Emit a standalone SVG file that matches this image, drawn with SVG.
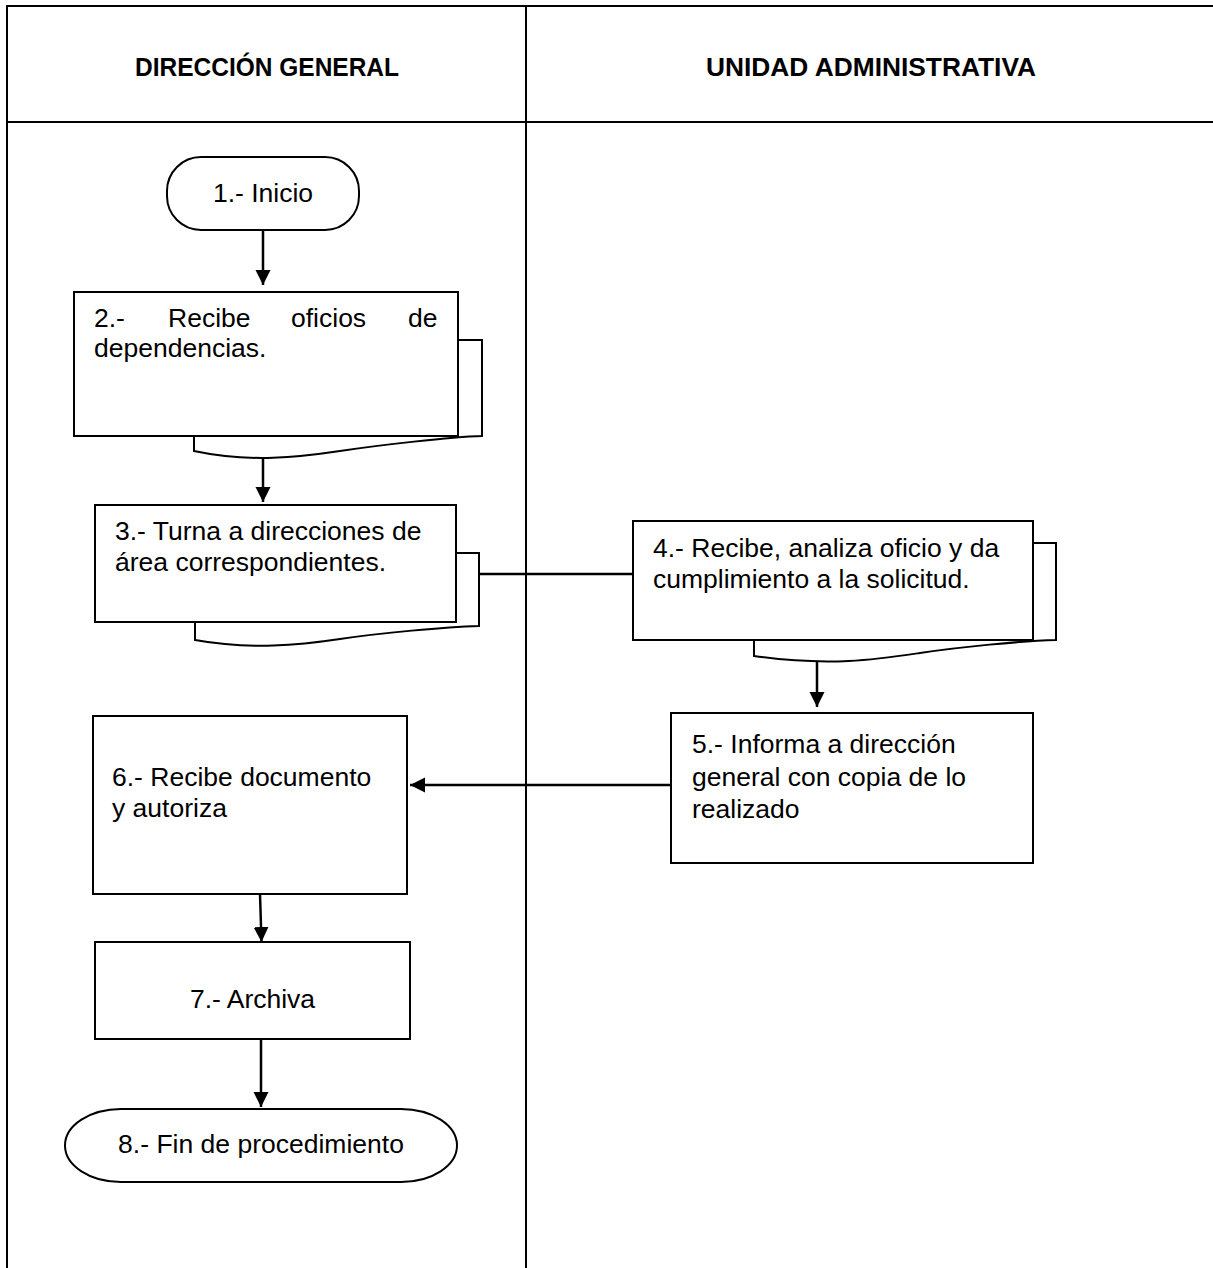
<svg xmlns="http://www.w3.org/2000/svg" width="1213" height="1268" viewBox="0 0 1213 1268">
  <style>
    .lane { stroke: #000; stroke-width: 2; fill: none; }
    .box { fill: #fff; stroke: #000; stroke-width: 2; }
    .page { fill: #fff; stroke: #000; stroke-width: 2; stroke-linejoin: miter; }
    .head { font-family: "Liberation Sans", Arial, sans-serif; font-weight: bold; font-size: 25px; fill: #000; }
    .lbl { font-family: "Liberation Sans", Arial, sans-serif; font-size: 26.5px; fill: #000; }
    .mid { text-anchor: middle; }
    .conn { stroke: #000; stroke-width: 2.5; fill: none; }
  </style>
  <defs>
    <marker id="arrow" markerUnits="userSpaceOnUse" markerWidth="16" markerHeight="16" viewBox="0 0 16 16" refX="15" refY="8" orient="auto">
      <path d="M0,0.5 L15,8 L0,15.5 Z" fill="#000"/>
    </marker>
  </defs>

  <rect width="1213" height="1268" fill="#fff"/>

  <!-- swimlane table -->
  <g id="lanes">
    <line class="lane" x1="7" y1="6" x2="1213" y2="6"/>
    <line class="lane" x1="7" y1="122" x2="1213" y2="122"/>
    <line class="lane" x1="7" y1="5" x2="7" y2="1268"/>
    <line class="lane" x1="526" y1="6" x2="526" y2="1268"/>
    <text class="head mid" x="267" y="76" textLength="264" lengthAdjust="spacingAndGlyphs">DIRECCIÓN GENERAL</text>
    <text class="head mid" x="871" y="76" textLength="330" lengthAdjust="spacingAndGlyphs">UNIDAD ADMINISTRATIVA</text>
  </g>

  <!-- connectors -->
  <g id="connectors">
    <line class="conn" x1="263" y1="230" x2="263" y2="285" marker-end="url(#arrow)"/>
    <line class="conn" x1="263" y1="436" x2="263" y2="502" marker-end="url(#arrow)"/>
    <line class="conn" x1="479" y1="574" x2="633" y2="574"/>
    <line class="conn" x1="817" y1="640" x2="817" y2="707" marker-end="url(#arrow)"/>
    <line class="conn" x1="671" y1="785" x2="410" y2="785" marker-end="url(#arrow)"/>
    <line class="conn" x1="260" y1="894" x2="261.5" y2="942" marker-end="url(#arrow)"/>
    <line class="conn" x1="261" y1="1039" x2="261" y2="1107" marker-end="url(#arrow)"/>
  </g>

  <!-- 1: start terminator -->
  <g id="n1">
    <rect class="box" x="167" y="157" width="192" height="73" rx="34" ry="34"/>
    <text class="lbl mid" x="263" y="202">1.- Inicio</text>
  </g>

  <!-- 2: multi-document -->
  <g id="n2">
    <path class="page" d="M458,340 H482 V436 C450,437 380,445 340,451 C300,457 250,463 194,451 V436"/>
    <rect class="box" x="74" y="292" width="384" height="144"/>
    <text class="lbl" y="327"><tspan x="94">2.-</tspan><tspan x="168">Recibe</tspan><tspan x="291">oficios</tspan><tspan x="408">de</tspan></text>
    <text class="lbl" x="94" y="357">dependencias.</text>
  </g>

  <!-- 3: multi-document -->
  <g id="n3">
    <path class="page" d="M456,553 H479 V626 C445,627 380,633 340,639 C300,645 250,650 195,640 V622"/>
    <rect class="box" x="95" y="505" width="361" height="117"/>
    <text class="lbl" x="115" y="540">3.- Turna a direcciones de</text>
    <text class="lbl" x="115" y="571">área correspondientes.</text>
  </g>

  <!-- 4: multi-document -->
  <g id="n4">
    <path class="page" d="M1033,543 H1056 V640 C1020,641 960,647 920,653 C880,659 830,667 754,656 V640"/>
    <rect class="box" x="633" y="521" width="400" height="119"/>
    <text class="lbl" x="653" y="557">4.- Recibe, analiza oficio y da</text>
    <text class="lbl" x="653" y="588">cumplimiento a la solicitud.</text>
  </g>

  <!-- 5: process -->
  <g id="n5">
    <rect class="box" x="671" y="713" width="362" height="150"/>
    <text class="lbl" x="692" y="753">5.- Informa a dirección</text>
    <text class="lbl" x="692" y="786">general con copia de lo</text>
    <text class="lbl" x="692" y="818">realizado</text>
  </g>

  <!-- 6: process -->
  <g id="n6">
    <rect class="box" x="93" y="716" width="314" height="178"/>
    <text class="lbl" x="112" y="786">6.- Recibe documento</text>
    <text class="lbl" x="112" y="817">y autoriza</text>
  </g>

  <!-- 7: process -->
  <g id="n7">
    <rect class="box" x="95" y="942" width="315" height="97"/>
    <text class="lbl mid" x="252.5" y="1008">7.- Archiva</text>
  </g>

  <!-- 8: end terminator -->
  <g id="n8">
    <rect class="box" x="65" y="1109" width="392" height="73" rx="56" ry="36.5"/>
    <text class="lbl mid" x="261" y="1153">8.- Fin de procedimiento</text>
  </g>
</svg>
